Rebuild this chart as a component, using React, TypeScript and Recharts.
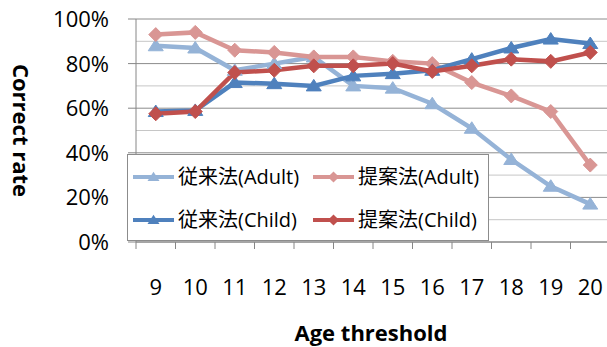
import React from 'react';
import { LineChart, Line, XAxis, YAxis, CartesianGrid, ReferenceLine, Legend } from 'recharts';

const ages = [9, 10, 11, 12, 13, 14, 15, 16, 17, 18, 19, 20];
const conventionalAdult = [88, 87, 77, 80, 83, 70, 69, 62, 51, 37, 25, 17];
const proposedAdult = [93, 94, 86, 85, 83, 83, 81, 80, 71.5, 65.5, 58.5, 34.5];
const conventionalChild = [58.5, 59, 71.5, 71, 70, 74.5, 75.5, 77, 82, 87, 91, 89];
const proposedChild = [57.5, 58.5, 76, 77, 79, 79, 80, 76.5, 79, 82, 81, 85];

const yTicks = [0, 20, 40, 60, 80, 100];
const minorGrid = [10, 30, 50, 70, 90];

// tick marks sit between the categories, labels on them
const boundaries = [...ages.map((a) => a - 0.5), ages[ages.length - 1] + 0.5];
const xTicks = [...boundaries, ...ages].sort((a, b) => a - b);

const data = ages.map((age, i) => ({
  age,
  conventionalAdult: conventionalAdult[i],
  proposedAdult: proposedAdult[i],
  conventionalChild: conventionalChild[i],
  proposedChild: proposedChild[i],
}));

const FONT = "'Open Sans', 'Noto Sans CJK JP', sans-serif";
const AXIS = '#868686';

const series = [
  { key: 'conventionalAdult', name: '従来法(Adult)', color: '#95b3d7', marker: 'triangle' },
  { key: 'proposedAdult', name: '提案法(Adult)', color: '#d99694', marker: 'diamond' },
  { key: 'conventionalChild', name: '従来法(Child)', color: '#4f81bd', marker: 'triangle' },
  { key: 'proposedChild', name: '提案法(Child)', color: '#c0504d', marker: 'diamond' },
];

function markerPath(kind: string, cx: number, cy: number, s: number) {
  if (kind === 'triangle') {
    return `M${cx},${cy - 6.5 * s}L${cx + 7.5 * s},${cy + 5 * s}L${cx - 7.5 * s},${cy + 5 * s}Z`;
  }
  return `M${cx},${cy - 7 * s}L${cx + 7 * s},${cy}L${cx},${cy + 7 * s}L${cx - 7 * s},${cy}Z`;
}

const makeDot = (kind: string, color: string) => (props: any) => {
  const { cx, cy, index } = props;
  if (cx == null || cy == null) return <g key={index} />;
  return <path key={index} d={markerPath(kind, cx, cy, 1)} fill={color} stroke={color} strokeWidth={1} />;
};

const XTick = ({ x, y, payload }: any) => {
  if (Number.isInteger(payload.value)) {
    return (
      <text x={x} y={y + 53} textAnchor="middle" fontSize={22} fontFamily={FONT} fill="#000">
        {payload.value}
      </text>
    );
  }
  return <line x1={x} x2={x} y1={y} y2={y + 7} stroke={AXIS} />;
};

const YTick = ({ x, y, payload }: any) => (
  <g>
    <line x1={x - 8} x2={x} y1={y} y2={y} stroke={AXIS} />
    <text x={x - 27} y={y + 8} textAnchor="end" fontSize={22} fontFamily={FONT} fill="#000">
      {payload.value}%
    </text>
  </g>
);

const renderLegend = (props: any) => {
  const payload = props.payload || [];
  return (
    <svg width={362} height={88} style={{ display: 'block' }}>
      <rect x={0.5} y={0.5} width={361} height={86} fill="#fff" stroke="#8c8c8c" />
      {payload.map((entry: any) => {
        const i = series.findIndex((d) => d.name === entry.value || d.key === entry.dataKey);
        if (i < 0) return null;
        const s = series[i];
        const col = i % 2;
        const row = Math.floor(i / 2);
        const lx = col === 0 ? 6 : 186;
        const ly = row === 0 ? 23 : 66;
        return (
          <g key={s.key}>
            <line x1={lx} x2={lx + 41} y1={ly} y2={ly} stroke={s.color} strokeWidth={4} />
            <path d={markerPath(s.marker, lx + 20.5, ly, 0.8)} fill={s.color} />
            <text x={lx + 45} y={ly + 7} fontSize={20} fontFamily={FONT} fill="#000">
              {s.name}
            </text>
          </g>
        );
      })}
    </svg>
  );
};

export default function App() {
  return (
    <div style={{ position: 'absolute', left: 0, top: 0, width: 607, height: 347, background: '#fff' }}>
      <LineChart width={607} height={347} data={data} margin={{ top: 19, right: -3, bottom: 0, left: 0 }}>
        <CartesianGrid horizontal vertical={false} stroke="#8c8c8c" />
        {minorGrid.map((v) => (
          <ReferenceLine key={v} y={v} stroke="#c6c6c6" />
        ))}
        <XAxis
          dataKey="age"
          type="number"
          domain={[8.5, 20.5]}
          ticks={xTicks}
          interval={0}
          height={105}
          tickLine={false}
          tickSize={0}
          tickMargin={0}
          tick={<XTick />}
          axisLine={{ stroke: AXIS }}
          label={(p: any) => {
            const vb = p.viewBox;
            return (
              <text x={vb.x + vb.width / 2 - 2} y={vb.y + 99} textAnchor="middle" fontSize={22} fontWeight="bold" fontFamily={FONT} fill="#000">
                Age threshold
              </text>
            );
          }}
        />
        <YAxis
          type="number"
          domain={[0, 100]}
          ticks={yTicks}
          interval={0}
          width={136}
          tickLine={false}
          tickSize={0}
          tickMargin={0}
          tick={<YTick />}
          axisLine={{ stroke: AXIS }}
          label={(p: any) => {
            const vb = p.viewBox;
            const cx = 22;
            const cy = vb.y + vb.height / 2;
            return (
              <text x={cx} y={cy} transform={`rotate(90 ${cx} ${cy})`} textAnchor="middle" dominantBaseline="central" fontSize={22} fontWeight="bold" fontFamily={FONT} fill="#000">
                Correct rate
              </text>
            );
          }}
        />
        {series.map((s) => (
          <Line
            key={s.key}
            type="linear"
            dataKey={s.key}
            name={s.name}
            stroke={s.color}
            strokeWidth={4.5}
            dot={makeDot(s.marker, s.color)}
            activeDot={false}
            isAnimationActive={false}
          />
        ))}
        <Legend
          layout="horizontal"
          verticalAlign="middle"
          align="center"
          content={renderLegend}
          wrapperStyle={{ position: 'absolute', left: 127, top: 154, width: 362, height: 88, margin: 0 }}
        />
      </LineChart>
    </div>
  );
}
